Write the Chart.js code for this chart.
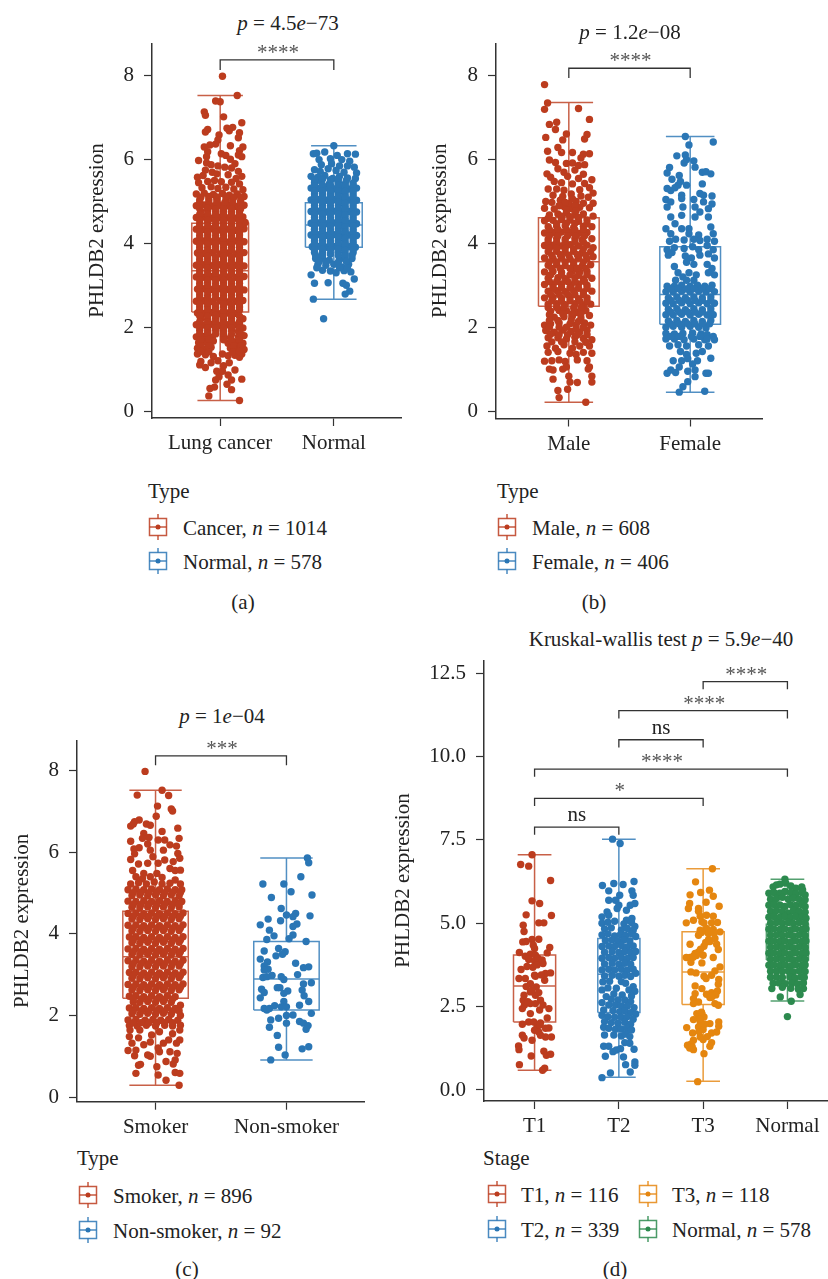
<!DOCTYPE html>
<html>
<head>
<meta charset="utf-8">
<title>PHLDB2 expression</title>
<script src="https://cdn.jsdelivr.net/npm/chart.js@4"></script>
<style>
html, body { margin: 0; padding: 0; background: #fff; }
#page { position: relative; width: 828px; height: 1279px; overflow: hidden; font-family: "Liberation Serif", serif; color: #222; font-size: 21px; }
#page canvas { position: absolute; }
.t { position: absolute; white-space: nowrap; line-height: 1; transform: translateY(-50%); }
.c { transform: translate(-50%, -50%); }
.g { position: absolute; }
</style>
</head>
<body>
<div id="page"></div>
<script>
const red = '#bc3c1e', blue = '#2a76b5', orange = '#e5860f', green = '#2c8a4e';

const yTicksTop = [0, 2, 4, 6, 8];
const yTicksD = [0, 2.5, 5, 7.5, 10, 12.5];
const catsA = ['Lung cancer', 'Normal'];
const catsB = ['Male', 'Female'];
const catsC = ['Smoker', 'Non-smoker'];
const catsD = ['T1', 'T2', 'T3', 'Normal'];

// low whisker, q1, median, q3, high whisker
const statsA = [[.25, 2.36, 3.35, 4.48, 7.53], [2.67, 3.91, 4.44, 4.97, 6.33]];
const statsB = [[.21, 2.5, 3.56, 4.61, 7.36], [.45, 2.07, 2.78, 3.92, 6.55]];
const statsC = [[.29, 2.42, 3.44, 4.55, 7.52], [.91, 2.13, 2.89, 3.81, 5.86]];
const statsD = [[.59, 2.04, 3.12, 4.05, 7.05], [.38, 2.32, 3.47, 4.54, 7.52], [.26, 2.56, 3.54, 4.74, 6.63], [2.67, 3.9, 4.44, 4.97, 6.32]];

// jitter, value pairs (dense middles are estimates)
const ptsA0 = [.02,7.99,.15,7.53,-.04,7.4,0,7.38,-.14,7.14,-.13,7.06,.03,7.02,.19,6.88,.11,6.77,.06,6.75,.08,6.69,-.11,6.72,-.13,6.66,.17,6.64,-.01,6.59,.16,6.52,-.02,6.47,-.04,6.37,-.09,6.35,-.14,6.3,.09,6.33,.2,6.3,.17,6.21,-.11,6.19,.01,6.14,.05,6.1,.16,6.11,.19,6.07,-.12,6.07,.09,6.01,-.19,5.98,-.12,5.92,-.08,5.88,.13,5.9,
-.02,5.85,.04,5.82,.1,5.8,.16,5.72,-.13,5.75,-.07,5.7,.19,5.6,-.2,5.58,-.15,5.62,-.03,5.66,.07,5.64,.14,5.55,
-.19,5.45,-.11,5.48,-.05,5.5,.01,5.47,.1,5.46,.17,5.42,-.16,5.33,-.08,5.35,-.02,5.31,.05,5.34,.12,5.3,.2,5.28,
-.21,5.18,-.14,5.2,-.06,5.17,.02,5.19,.08,5.15,.15,5.18,.21,5.12,-.18,5.04,-.1,5.05,-.03,5.06,.05,5.03,.11,5.04,.18,5.01,
-.21,4.9,-.14,4.92,-.07,4.89,-.01,4.91,.07,4.9,.14,4.88,.21,4.91,-.17,4.76,-.11,4.78,-.04,4.75,.03,4.77,.1,4.74,.17,4.76,
-.21,4.62,-.14,4.63,-.08,4.6,-.01,4.62,.06,4.61,.13,4.6,.2,4.63,-.18,4.47,-.11,4.49,-.04,4.46,.03,4.48,.1,4.47,.17,4.45,.22,4.5,
-.21,4.34,-.14,4.33,-.07,4.35,0,4.32,.07,4.34,.14,4.31,.21,4.35,-.18,4.19,-.11,4.2,-.04,4.18,.03,4.2,.1,4.17,.17,4.2,
-.21,4.05,-.14,4.06,-.07,4.04,0,4.06,.07,4.03,.14,4.06,.21,4.04,-.18,3.91,-.11,3.9,-.04,3.92,.03,3.89,.1,3.91,.17,3.9,
-.2,3.77,-.14,3.76,-.07,3.78,0,3.75,.07,3.77,.14,3.75,.21,3.78,-.18,3.62,-.11,3.63,-.04,3.61,.03,3.63,.1,3.6,.17,3.63,
-.21,3.48,-.14,3.49,-.07,3.47,0,3.49,.06,3.46,.14,3.48,.21,3.46,-.18,3.34,-.11,3.33,-.04,3.35,.03,3.32,.1,3.34,.17,3.33,
-.21,3.2,-.14,3.19,-.07,3.21,0,3.18,.07,3.2,.14,3.19,.21,3.21,-.18,3.05,-.11,3.06,-.04,3.04,.03,3.06,.1,3.03,.17,3.05,
-.2,2.91,-.14,2.92,-.07,2.9,0,2.92,.07,2.9,.14,2.91,.21,2.89,-.18,2.77,-.11,2.76,-.04,2.78,.03,2.75,.1,2.77,.17,2.76,
-.21,2.62,-.14,2.63,-.07,2.61,0,2.63,.07,2.6,.14,2.62,.2,2.64,-.18,2.48,-.11,2.49,-.04,2.47,.03,2.49,.1,2.46,.17,2.48,
-.2,2.34,-.14,2.33,-.07,2.35,0,2.32,.07,2.34,.14,2.33,.2,2.2,-.17,2.2,-.11,2.19,-.04,2.21,.03,2.18,.1,2.2,.17,2.08,
-.21,2.06,-.14,2.05,-.07,2.07,0,2.04,.07,2.06,.13,2.05,.2,1.98,-.18,1.92,-.11,1.91,-.04,1.93,.03,1.9,.1,1.92,.16,1.9,
-.21,1.77,-.14,1.78,-.07,1.76,.03,1.78,.09,1.75,.16,1.77,.21,1.8,-.19,1.63,-.12,1.64,-.06,1.67,.07,1.62,.14,1.64,.2,1.62,
-.2,1.5,-.14,1.48,-.08,1.52,.09,1.5,.15,1.48,.21,1.47,-.2,1.36,-.13,1.34,-.06,1.3,.02,1.36,.07,1.32,.13,1.33,.19,1.36,
-.18,1.1,-.13,1.04,-.17,1.18,-.08,1.15,-.02,1.2,.03,1.08,.08,1.15,.13,.98,.17,1.28,
.17,.25,-.1,.36,.1,.51,-.09,.54,-.05,.57,.06,.64,.19,.76,-.04,.74,-.01,.82,.1,.74,.07,.86,-.03,.95,.02,.95];
const fillA0 = [-.17,5.1,-.1,5.12,-.03,5.11,.05,5.12,.12,5.1,.18,5.1,-.18,4.98,-.1,4.98,-.03,4.98,.04,4.97,.11,4.97,.18,4.95,
-.18,4.83,-.11,4.84,-.04,4.82,.03,4.83,.1,4.82,.18,4.83,-.18,4.69,-.11,4.7,-.04,4.68,.03,4.69,.1,4.68,.17,4.69,-.18,4.55,-.11,4.55,-.04,4.54,.03,4.55,.1,4.53,.17,4.54,
-.18,4.41,-.11,4.41,-.04,4.4,.03,4.41,.1,4.39,.17,4.41,-.18,4.27,-.11,4.27,-.04,4.26,.03,4.27,.1,4.25,.17,4.26,-.18,4.12,-.11,4.13,-.04,4.11,.03,4.12,.1,4.11,.17,4.13,
-.18,3.98,-.11,3.98,-.04,3.99,.03,3.97,.1,3.97,.17,3.98,-.18,3.84,-.11,3.83,-.04,3.85,.03,3.82,.1,3.84,.17,3.83,-.18,3.7,-.11,3.69,-.04,3.68,.03,3.7,.1,3.68,.17,3.69,
-.18,3.55,-.11,3.56,-.04,3.54,.03,3.56,.1,3.53,.17,3.55,-.18,3.41,-.11,3.41,-.04,3.42,.03,3.4,.1,3.41,.17,3.4,-.18,3.27,-.11,3.26,-.04,3.28,.03,3.25,.1,3.27,.17,3.26,
-.18,3.13,-.11,3.12,-.04,3.12,.03,3.12,.1,3.11,.17,3.12,-.18,2.98,-.11,2.99,-.04,2.97,.03,2.99,.1,2.96,.17,2.98,-.18,2.84,-.11,2.84,-.04,2.84,.03,2.83,.1,2.84,.17,2.83,
-.18,2.7,-.11,2.69,-.04,2.7,.03,2.68,.1,2.69,.17,2.69,-.18,2.55,-.11,2.56,-.04,2.54,.03,2.56,.1,2.53,.17,2.55,-.18,2.41,-.11,2.41,-.04,2.41,.03,2.4,.1,2.4,.17,2.41,
-.18,2.27,-.11,2.26,-.04,2.28,.03,2.25,.1,2.27,.17,2.26,-.18,2.13,-.11,2.12,-.04,2.13,.03,2.11,.1,2.13,.17,2.14,-.18,1.99,-.11,1.98,-.04,1.98,.03,1.97,.1,1.99,.17,1.98,
-.18,1.84,-.11,1.85,-.04,1.84,.03,1.84,.1,1.83,.18,1.84,-.17,1.7,-.1,1.71,.03,1.7,.1,1.69,.17,1.7,-.17,1.56,-.1,1.56,.12,1.56,.18,1.55,-.17,1.42,-.1,1.41,.11,1.41,.17,1.42];
const ptsA1 = [0,6.33,-.18,6.14,-.15,6.15,-.08,6.18,.12,6.14,.19,6.13,.03,6.1,-.03,6.02,-.13,6,.07,6,.14,5.96,-.11,5.88,-.02,5.9,.05,5.85,.12,5.85,.18,5.82,-.17,5.76,-.12,5.72,-.05,5.78,.02,5.74,.09,5.7,.2,5.68,
-.2,5.6,-.14,5.58,-.08,5.62,-.01,5.55,.05,5.6,.12,5.56,.19,5.55,-.17,5.45,-.11,5.47,-.04,5.42,.04,5.46,.1,5.42,.17,5.44,-.2,5.32,-.13,5.31,-.07,5.33,0,5.3,.07,5.32,.13,5.3,.2,5.32,
-.17,5.18,-.1,5.19,-.03,5.17,.04,5.19,.1,5.16,.17,5.18,-.2,5.04,-.13,5.05,-.07,5.03,0,5.05,.07,5.02,.14,5.04,.2,5.03,-.17,4.9,-.1,4.91,-.03,4.89,.04,4.91,.1,4.88,.17,4.9,
-.2,4.76,-.13,4.77,-.07,4.75,0,4.77,.07,4.74,.14,4.76,.2,4.75,-.17,4.62,-.1,4.63,-.03,4.61,.04,4.63,.1,4.6,.17,4.62,-.2,4.48,-.13,4.49,-.07,4.47,0,4.49,.07,4.46,.14,4.48,.2,4.47,
-.17,4.34,-.1,4.35,-.03,4.33,.04,4.35,.1,4.32,.17,4.34,-.2,4.2,-.13,4.21,-.07,4.19,0,4.21,.07,4.18,.14,4.2,.2,4.19,-.17,4.06,-.1,4.07,-.03,4.05,.04,4.07,.1,4.04,.17,4.06,
-.19,3.92,-.13,3.93,-.07,3.91,0,3.93,.07,3.9,.14,3.92,.19,3.91,-.17,3.78,-.1,3.79,-.03,3.75,.04,3.79,.1,3.76,.17,3.78,-.16,3.64,-.1,3.65,-.04,3.6,.05,3.62,.1,3.63,.16,3.64,
-.14,3.5,-.07,3.48,0,3.5,.07,3.44,.13,3.5,-.1,3.36,-.03,3.34,.02,3.3,.09,3.35,.15,3.32,-.2,3.25,-.17,3.05,-.05,3.06,.08,3.05,.18,3.15,.14,2.86,.1,2.79,.11,3,-.18,2.67,-.09,2.2];
const fillA1 = [-.17,5.52,-.1,5.53,-.03,5.52,.04,5.53,.11,5.5,-.17,5.38,-.1,5.39,-.03,5.38,.04,5.39,.1,5.37,.17,5.38,-.17,5.25,-.1,5.25,-.03,5.24,.04,5.25,.1,5.24,.17,5.25,
-.17,5.11,-.1,5.12,-.03,5.11,.04,5.12,.1,5.1,.17,5.11,-.17,4.97,-.1,4.98,-.03,4.97,.04,4.98,.1,4.96,.17,4.97,-.17,4.83,-.1,4.84,-.03,4.83,.04,4.84,.1,4.82,.17,4.83,
-.17,4.69,-.1,4.7,-.03,4.69,.04,4.7,.1,4.68,.17,4.69,-.17,4.55,-.1,4.56,-.03,4.55,.04,4.56,.1,4.54,.17,4.55,-.17,4.41,-.1,4.42,-.03,4.41,.04,4.42,.1,4.4,.17,4.41,
-.17,4.27,-.1,4.28,-.03,4.27,.04,4.28,.1,4.26,.17,4.27,-.17,4.13,-.1,4.14,-.03,4.13,.04,4.14,.1,4.12,.17,4.13,-.17,3.99,-.1,4,-.03,3.99,.04,4,.1,3.98,.17,3.99,
-.17,3.85,-.1,3.86,-.03,3.85,.04,3.86,.1,3.84,.17,3.85,-.16,3.71,-.1,3.72,.04,3.71,.1,3.7,.16,3.71,-.13,3.57,-.07,3.56,.04,3.55,.11,3.57,-.15,3.42,.05,3.42,.12,3.4];
const ptsB0 = [-.2,7.79,-.175,7.35,-.2,7.2,.08,7.22,.17,6.96,-.1,6.89,-.16,6.84,-.11,6.72,-.02,6.61,.15,6.6,-.19,6.53,.13,6.49,-.05,6.47,-.09,6.29,-.175,6.2,-.06,6.17,.03,6.17,.17,6.14,.12,6.13,.1,6.04,-.16,5.99,-.11,5.93,-.02,5.91,.03,5.92,.08,5.86,.13,5.88,
-.09,5.78,-.04,5.7,.05,5.75,-.18,5.66,-.15,5.58,-.01,5.6,.12,5.65,.08,5.55,.19,5.52,-.12,5.48,-.06,5.45,.03,5.42,.13,5.43,.17,5.33,-.17,5.3,-.1,5.3,-.04,5.27,.09,5.28,.2,5.2,
-.13,5.15,-.05,5.12,.02,5.18,.1,5.13,.16,5.1,-.19,5,-.14,4.98,-.07,5.03,0,4.95,.06,5,.12,4.96,.2,4.96,-.2,4.84,-.12,4.82,-.04,4.88,.03,4.82,.09,4.86,.17,4.85,
-.16,4.68,-.09,4.7,-.02,4.72,.05,4.68,.12,4.7,.2,4.65,-.2,4.54,-.13,4.55,-.06,4.57,.01,4.56,.08,4.53,.15,4.56,-.17,4.4,-.1,4.41,-.03,4.42,.04,4.38,.12,4.41,.19,4.4,
-.2,4.25,-.13,4.26,-.06,4.27,.02,4.26,.08,4.24,.15,4.26,-.17,4.1,-.1,4.12,-.03,4.1,.05,4.12,.11,4.09,.19,4.11,-.2,3.95,-.13,3.96,-.06,3.94,.01,3.97,.08,3.94,.15,3.96,.2,3.9,
-.17,3.8,-.1,3.81,-.03,3.79,.04,3.81,.11,3.78,.18,3.8,-.2,3.65,-.13,3.64,-.06,3.66,.01,3.63,.08,3.65,.15,3.63,.2,3.68,-.17,3.48,-.1,3.49,-.03,3.47,.04,3.49,.11,3.46,.18,3.49,
-.2,3.32,-.13,3.33,-.06,3.31,.03,3.34,.09,3.31,.15,3.33,-.17,3.17,-.09,3.18,-.03,3.16,.05,3.18,.12,3.15,.19,3.17,-.2,3.02,-.13,3,-.06,3.03,.02,3.01,.08,3.03,.15,3,
-.17,2.86,-.1,2.87,-.03,2.85,.04,2.87,.12,2.84,.19,2.86,-.2,2.7,-.13,2.71,-.06,2.69,.01,2.71,.08,2.68,.15,2.7,-.17,2.55,-.1,2.56,-.03,2.54,.05,2.56,.12,2.53,.18,2.55,
-.15,2.38,-.08,2.4,-.02,2.39,.07,2.35,.14,2.4,.17,2.28,-.12,2.24,-.04,2.25,.03,2.27,.1,2.22,.18,2.05,-.2,2.05,-.15,2.08,-.08,2.1,.01,2.08,.06,2.05,.13,2.1,
-.19,1.92,-.12,1.88,-.05,1.93,.02,1.9,.09,1.88,.15,1.92,-.17,1.75,-.09,1.75,-.02,1.72,.05,1.76,.12,1.73,.19,1.7,-.18,1.55,-.11,1.5,-.04,1.58,.03,1.5,.09,1.55,.17,1.55,
-.17,1.4,-.09,1.42,.01,1.38,.06,1.35,.12,1.4,.19,1.38,-.2,1.19,-.14,1.2,-.08,1.22,-.03,1.18,.07,1.22,.15,1.2,.17,1.05,
.14,.21,-.08,.32,-.09,.49,-.01,.52,.07,.68,.19,.69,.01,.69,-.13,.76,.19,.83,0,.83,.16,1,-.16,1,-.13,.98,-.05,1,-.02,1.05];
const fillB0 = [-.03,4.98,.03,5.06,-.08,4.9,.05,4.9,-.02,4.8,.06,4.78,-.06,4.65,.01,4.64,.08,4.62,-.17,4.6,-.1,4.47,-.02,4.48,.05,4.48,.15,4.47,-.16,4.33,-.09,4.33,-.02,4.33,.05,4.32,.12,4.33,-.16,4.18,-.09,4.18,-.01,4.18,.06,4.18,.13,4.18,
-.17,4.03,-.1,4.03,-.03,4.03,.05,4.03,.12,4.03,-.16,3.88,-.1,3.88,-.03,3.88,.04,3.87,.12,3.87,-.14,3.72,-.07,3.73,0,3.72,.07,3.73,.14,3.72,-.16,3.56,-.1,3.56,-.03,3.56,.04,3.56,.12,3.56,
-.14,3.4,-.07,3.4,.01,3.4,.07,3.4,.14,3.4,-.15,3.25,-.06,3.25,.01,3.25,.08,3.24,.15,3.25,-.16,3.09,-.1,3.09,-.01,3.09,.05,3.09,.13,3.09,-.13,2.93,-.06,2.94,.01,2.94,.08,2.93,.15,2.93,
-.15,2.78,-.08,2.78,-.01,2.78,.05,2.78,.12,2.78,-.14,2.63,-.06,2.62,.01,2.63,.09,2.62,.15,2.62,-.17,2.47,-.1,2.47,-.04,2.47,.04,2.46,.1,2.46,-.16,2.3,-.05,2.32,.03,2.32,.1,2.32,-.16,2.16,-.09,2.16,.02,2.17,.08,2.14,
-.16,2,-.08,2,-.02,2,.06,1.97,.12,2,-.15,1.83,-.08,1.82,-.01,1.82,.07,1.82,.15,1.82,-.14,1.65,-.06,1.65,.05,1.65,.14,1.64];
const ptsB1 = [-.04,6.55,.19,6.42,-.01,6.35,-.11,6.09,-.04,6.11,-.03,6,-.05,5.92,.03,5.97,-.17,5.81,.04,5.82,-.19,5.68,-.09,5.62,.1,5.7,.13,5.71,.17,5.66,-.15,5.53,-.08,5.48,-.1,5.39,-.03,5.39,.1,5.42,
-.19,5.31,-.16,5.26,-.125,5.33,-.07,5.15,.08,5.19,.11,5.15,.18,5.13,-.2,5.05,-.16,4.99,-.07,5.07,.03,5.05,.11,4.99,.18,4.94,-.19,4.87,-.06,4.87,.04,4.87,.08,4.75,.15,4.83,-.16,4.63,-.07,4.67,.04,4.63,.15,4.63,
-.125,4.47,-.07,4.35,-.01,4.35,-.2,4.35,.17,4.39,.19,4.23,-.16,4.23,-.01,4.23,.07,4.2,-.17,4.05,-.12,4.1,-.05,4.08,.03,4.1,.08,4.07,.14,4.1,.2,4.05,
-.19,3.85,-.13,3.9,-.05,3.88,.02,3.92,.07,3.85,.14,3.95,.19,3.85,-.18,3.72,-.15,3.78,-.04,3.7,.01,3.65,.08,3.72,.15,3.75,.2,3.65,-.03,3.55,.03,3.5,.14,3.5,.18,3.4,.2,3.25,
-.13,3.45,-.1,3.3,.15,3.3,-.06,3.2,-.01,3.3,.05,3.25,-.12,3.12,-.03,3.12,.03,3.12,-.19,2.98,-.13,2.98,-.07,3,0,2.98,.06,3,.12,2.98,.18,3,
-.2,2.85,-.14,2.84,-.07,2.86,0,2.84,.07,2.86,.13,2.84,.2,2.85,-.18,2.7,-.11,2.72,-.04,2.7,.03,2.72,.1,2.7,.17,2.72,-.2,2.57,-.14,2.56,-.07,2.58,0,2.56,.07,2.58,.14,2.56,.2,2.57,
-.18,2.43,-.11,2.44,-.04,2.42,.03,2.44,.1,2.42,.17,2.44,-.2,2.3,-.14,2.29,-.07,2.31,0,2.29,.07,2.31,.14,2.29,.19,2.3,-.18,2.15,-.11,2.16,-.04,2.14,.03,2.16,.1,2.14,.17,2.16,
-.2,2,-.14,2.02,-.07,2,0,2.02,.07,2,.13,1.98,-.2,1.85,-.13,1.84,-.06,1.85,.02,1.86,.09,1.84,.14,1.82,-.2,1.72,-.13,1.72,-.05,1.7,.03,1.72,.12,1.7,.19,1.78,.2,1.7,
-.17,1.55,-.1,1.58,-.03,1.55,.07,1.58,.15,1.55,-.08,1.42,-.03,1.35,.05,1.38,.1,1.42,.17,1.26,-.14,1.2,-.07,1.2,-.02,1.25,.06,1.2,.02,1.12,
-.19,.9,-.16,.98,-.12,.92,-.09,1.05,-.02,.95,.04,.98,.13,.9,.15,.9,.04,.82,-.02,.7,-.06,.58,.12,.47,-.09,.45];
const fillB1 = [-.16,2.92,-.1,2.92,-.03,2.91,.03,2.92,.1,2.92,.16,2.92,-.16,2.64,-.09,2.64,-.02,2.64,.04,2.64,.1,2.64,.17,2.64,
-.16,2.36,-.09,2.36,-.02,2.36,.04,2.36,.1,2.36,.17,2.36,-.16,2.08,-.09,2.08,-.02,2.08,.04,2.08,.1,2.08,.16,2.08,-.16,1.78,-.09,1.78,.01,1.78,.08,1.78,.14,1.72];
const ptsC0 = [-.08,7.98,.05,7.52,-.14,7.4,.1,7.39,.015,7.13,.12,7.06,.13,7.01,.005,6.88,-.125,6.79,-.16,6.75,-.19,6.64,-.17,6.69,-.07,6.69,-.04,6.66,.17,6.59,.05,6.51,-.09,6.46,-.1,6.34,.18,6.34,-.05,6.36,.02,6.3,.07,6.3,-.19,6.27,-.06,6.2,.11,6.18,.16,6.15,-.125,6.11,-.165,6.08,-.04,6.05,.06,6.05,.17,5.97,-.16,5.96,-.02,5.89,.185,5.85,-.19,5.82,.07,5.81,.135,5.77,-.13,5.71,-.06,5.73,.02,5.73,.11,5.6,.19,5.56,-.175,5.55,-.09,5.48,.15,5.55,.01,5.48,-.15,5.4,.15,5.32,.19,5.22,-.04,5.4,.05,5.38,-.1,5.35,
-.19,5.22,-.13,5.25,-.07,5.22,-.01,5.27,.05,5.22,.11,5.24,-.21,5.08,-.15,5.1,-.09,5.08,-.03,5.1,.03,5.08,.09,5.1,.15,5.08,.2,5.08,
-.18,4.94,-.12,4.95,-.06,4.93,0,4.95,.06,4.93,.12,4.95,.18,4.93,-.21,4.8,-.15,4.79,-.09,4.81,-.03,4.79,.03,4.81,.09,4.79,.15,4.81,.2,4.79,
-.18,4.65,-.12,4.64,-.06,4.66,0,4.64,.06,4.66,.12,4.64,.18,4.66,-.21,4.5,-.15,4.51,-.09,4.49,-.03,4.51,.03,4.49,.09,4.51,.15,4.49,.21,4.51,
-.18,4.36,-.12,4.35,-.06,4.37,0,4.35,.06,4.37,.12,4.35,.18,4.37,-.21,4.21,-.15,4.22,-.09,4.2,-.03,4.22,.03,4.2,.09,4.22,.15,4.2,.21,4.22,
-.18,4.07,-.12,4.06,-.06,4.08,0,4.06,.06,4.08,.12,4.06,.18,4.08,-.2,3.92,-.15,3.93,-.09,3.91,-.03,3.93,.03,3.91,.09,3.93,.15,3.91,.21,3.93,
-.18,3.78,-.12,3.77,-.06,3.79,0,3.77,.06,3.79,.12,3.77,.18,3.79,-.21,3.63,-.15,3.64,-.09,3.62,-.03,3.64,.03,3.62,.09,3.64,.15,3.62,.21,3.64,
-.18,3.49,-.12,3.48,-.06,3.5,0,3.48,.06,3.5,.12,3.48,.18,3.5,-.21,3.34,-.15,3.35,-.09,3.33,-.03,3.35,.03,3.33,.09,3.35,.15,3.33,.21,3.35,
-.18,3.2,-.12,3.19,-.06,3.21,0,3.19,.06,3.21,.12,3.19,.18,3.21,-.2,3.05,-.15,3.06,-.09,3.04,-.03,3.06,.03,3.04,.09,3.06,.15,3.04,.21,3.06,
-.18,2.91,-.12,2.9,-.06,2.92,0,2.9,.06,2.92,.12,2.9,.18,2.92,-.21,2.76,-.15,2.77,-.09,2.75,-.03,2.77,.03,2.75,.09,2.77,.15,2.75,.21,2.77,
-.18,2.62,-.12,2.61,-.06,2.63,0,2.61,.06,2.63,.12,2.61,.18,2.63,-.2,2.47,-.15,2.48,-.09,2.46,-.03,2.48,.03,2.46,.09,2.48,.15,2.46,
-.17,2.33,-.12,2.32,-.06,2.34,0,2.32,.06,2.34,.12,2.32,.19,2.25,-.2,2.18,-.15,2.19,-.09,2.17,-.03,2.19,.03,2.17,.09,2.19,.15,2.17,
-.18,2.04,-.12,2.03,-.06,2.05,0,2.03,.06,2.05,.12,2.03,.19,2,-.21,1.89,-.15,1.9,-.08,1.88,-.02,1.9,.04,1.88,.1,1.9,.17,1.88,
-.2,1.75,-.14,1.74,-.07,1.76,0,1.74,.07,1.76,.13,1.74,.19,1.76,.18,.29,.08,.41,-.15,.58,.02,.54,.15,.6,.185,.58,-.13,.78,-.115,.8,.01,.74,.135,.81,.08,.87,.165,1.07,.15,.91,-.06,1.03,-.04,1,-.16,1.01,-.21,1.14,.03,1.11,.11,1.11,-.09,1.28,.06,1.32,.16,1.32,-.18,1.32,.185,1.4,-.04,1.35,.1,1.4,-.2,1.48,-.13,1.45,-.03,1.52,.185,1.64,-.195,1.64,-.12,1.64,.03,1.6,.13,1.55,.02,1.2,-.15,1.15];
const fillC0 = [-.17,5.01,-.11,5.02,-.05,5.01,.01,5.02,.07,5.01,.13,5.02,.19,5.01,-.17,4.72,-.11,4.72,-.05,4.73,.01,4.72,.07,4.73,.13,4.72,.18,4.73,
-.17,4.43,-.11,4.43,-.05,4.43,.01,4.43,.07,4.43,.13,4.43,.19,4.43,-.17,4.14,-.11,4.14,-.05,4.14,.01,4.14,.07,4.14,.13,4.14,.19,4.14,-.17,3.85,-.11,3.85,-.05,3.85,.01,3.85,.07,3.85,.13,3.85,.19,3.85,
-.17,3.56,-.11,3.56,-.05,3.56,.01,3.56,.07,3.56,.13,3.56,.19,3.56,-.17,3.27,-.11,3.27,-.05,3.27,.01,3.27,.07,3.27,.13,3.27,.19,3.27,-.17,2.98,-.11,2.98,-.05,2.98,.01,2.98,.07,2.98,.13,2.98,.19,2.98,
-.17,2.69,-.11,2.69,-.05,2.69,.01,2.69,.07,2.69,.13,2.69,.19,2.69,-.17,2.4,-.11,2.4,-.05,2.4,.01,2.4,.07,2.4,.13,2.4,-.17,2.11,-.11,2.11,-.05,2.11,.01,2.11,.07,2.11,.13,2.11,.18,2.11,-.17,1.82,-.11,1.82,-.05,1.82,.01,1.82,.07,1.82,.13,1.82];
const ptsC1 = [.16,5.86,.17,5.74,.11,5.4,-.18,5.22,-.02,5.22,.035,5.03,.195,4.95,-.115,4.89,-.04,4.62,.07,4.5,0,4.46,.05,4.42,.18,4.44,-.14,4.36,-.045,4.32,-.2,4.22,.08,4.24,.05,4.18,-.13,4.09,-.095,3.95,.05,3.97,-.15,3.86,.02,3.88,.15,3.81,-.06,3.64,-.17,3.58,-.01,3.56,-.03,3.5,-.08,3.46,-.2,3.38,-.145,3.31,.07,3.28,-.17,3.21,.13,3.17,.17,3.19,-.14,3.13,-.17,3.11,.085,3,-.18,2.93,-.11,2.98,-.15,2.95,-.04,2.95,-.02,2.88,.13,2.77,.19,2.8,-.19,2.64,-.07,2.68,-.05,2.68,.01,2.6,.12,2.62,-.17,2.56,-.02,2.54,.135,2.48,-.2,2.43,.17,2.34,-.02,2.34,.1,2.25,-.09,2.24,-.04,2.21,0,2.21,-.17,2.17,-.15,2.13,-.13,2.17,.19,2.05,0,2,.05,2.01,-.06,1.93,-.12,1.89,.1,1.85,.13,1.81,.165,1.75,0,1.81,-.13,1.71,.15,1.66,-.07,1.51,-.06,1.22,.17,1.23,.12,1.18,-.01,1.03,-.12,.91];
const ptsD0 = [-.03,7.05,-.165,6.76,-.07,6.71,.19,6.28,-.03,5.67,.06,5.59,-.1,5.25,.2,5.23,-.135,4.94,.05,5.01,.11,5.01,-.125,4.75,-.14,4.44,-.03,4.51,.05,4.52,-.015,4.34,.18,4.27,-.18,4.12,.15,4.11,0,4.24,-.11,4.01,-.05,4.07,.01,4.04,-.07,3.91,0,3.87,.06,3.87,.1,3.79,-.16,3.61,0,3.44,.13,3.49,.19,3.51,-.185,3.34,-.11,3.34,.01,3.41,.12,3.29,-.05,3.19,.02,3.09,-.125,2.84,-.05,2.94,.01,2.84,.07,2.69,-.135,2.69,-.05,2.59,.17,2.44,-.145,2.44,.01,2.59,-.05,2.29,.15,2.16,-.145,1.97,-.07,2.04,-.01,2.04,.07,2.01,.03,1.89,.17,1.86,0,1.79,.05,1.74,-.145,1.64,-.125,1.56,.13,1.59,.2,1.59,-.03,1.49,.07,1.64,-.19,1.32,-.185,1.21,.11,1.16,.14,1.04,.19,1.07,-.04,1.02,-.18,.76,.12,.65,.095,.59,.04,3.95,.09,3.9,-.09,3.7,-.02,3.68,.08,3.45,-.1,3.1,-.03,3,.05,2.92,-.12,2.55,.06,2.4,-.08,2.65,.1,2.55,.06,1.95,.13,1.85,-.1,4.45,.03,3.75];
const ptsD1 = [-.075,7.52,.015,7.39,.18,6.25,.05,6.16,-.06,6.19,-.195,6.13,.155,5.97,.17,5.84,.01,5.84,-.12,5.97,-.04,5.69,-.12,5.69,0,5.54,.135,5.54,.19,5.59,.09,5.39,-.14,5.34,-.02,5.44,-.2,5.19,-.12,5.24,.09,5.09,.155,5.14,
-.2,5,-.13,5.03,-.05,5.06,.06,4.98,.15,5.02,.19,4.9,-.17,4.83,-.09,4.86,.03,4.8,.1,4.84,.17,4.78,-.2,4.65,-.13,4.68,-.05,4.62,.02,4.66,.08,4.63,.15,4.68,.2,4.6,
-.16,4.48,-.08,4.5,-.01,4.46,.06,4.5,.13,4.47,-.2,4.3,-.12,4.32,-.05,4.3,.03,4.33,.1,4.29,.17,4.32,-.17,4.13,-.08,4.15,0,4.12,.07,4.15,.14,4.12,.2,4.15,
-.2,3.95,-.12,3.97,-.05,3.95,.03,3.97,.1,3.94,.17,3.97,-.17,3.78,-.08,3.8,0,3.77,.07,3.8,.14,3.77,-.2,3.6,-.12,3.62,-.05,3.6,.03,3.62,.1,3.59,.17,3.62,.2,3.5,
-.17,3.42,-.08,3.44,0,3.41,.07,3.44,.14,3.4,-.19,3.24,-.11,3.26,-.03,3.05,.03,3.25,.08,3.2,.17,3.1,-.13,3.06,-.2,3,.12,3,.19,2.96,-.06,2.88,.04,2.85,.15,2.82,
-.15,2.8,-.09,2.72,-.01,2.7,.07,2.7,.14,2.65,-.2,2.62,-.12,2.55,-.04,2.55,.03,2.52,.1,2.52,.18,2.47,-.18,2.4,-.07,2.38,.01,2.35,.07,2.38,.14,2.32,.2,2.28,
-.2,2.24,-.13,2.2,-.05,2.18,.03,2.18,.1,2.2,.17,2.12,-.17,2.05,-.09,2.02,-.01,2,.07,2.03,.14,1.98,-.18,1.88,-.12,1.85,-.04,1.82,.03,1.83,.1,1.85,.15,1.8,
-.17,1.65,-.06,1.65,.03,1.62,.08,1.68,.13,1.6,-.18,1.31,-.12,1.31,-.07,1.15,-.03,1.2,.02,1.24,.07,1.42,.13,1.4,.18,1.22,-.16,1.01,.055,.99,.19,.84,.08,.76,.19,.74,.135,.54,-.1,.51,-.2,.37];
const ptsD2 = [.11,6.63,-.09,6.24,.075,5.99,-.03,5.92,-.155,5.85,.12,5.81,.035,5.63,-.16,5.59,.19,5.51,-.175,5.44,-.055,5.44,-.055,5.36,-.035,5.21,.04,5.24,.12,5.21,-.015,5.04,-.115,5.09,-.2,5.01,.01,5.01,.1,5.01,.17,5.02,.04,4.84,.12,4.81,-.035,4.79,.2,4.74,-.055,4.64,.14,4.54,.065,4.51,-.155,4.37,.16,4.37,.01,4.31,.18,4.21,-.055,4.14,-.095,4.09,-.155,3.97,-.2,3.97,-.115,4.01,0,4.04,.12,3.97,-.145,3.83,-.015,3.81,.2,3.69,.14,3.57,-.145,3.54,-.085,3.51,.1,3.44,.01,3.41,.035,3.34,.185,3.31,.18,3.17,-.095,3.12,-.015,3.04,.1,2.92,-.095,2.89,.17,2.97,.04,2.87,.12,2.84,-.115,2.74,.08,2.77,-.055,2.64,-.115,2.59,.14,2.59,.18,2.54,-.075,2.29,-.015,2.29,-.055,2.19,.01,2.19,-.115,2.11,-.035,2.04,-.195,1.87,.185,2.04,.08,1.99,.185,1.91,-.055,1.89,0,1.81,.16,1.74,.1,1.71,-.125,1.71,-.035,1.59,0,1.51,-.115,1.49,.1,1.42,.08,1.31,-.185,1.34,-.145,1.37,-.115,1.21,.01,1.09,-.065,.25,.06,4.7,.1,4.75,-.02,4.72,.13,4.7,.03,4.42,.08,4.45,-.03,4.22,-.08,4.03,-.12,3.98,-.02,2.33,-.04,2.12,.02,1.97,-.05,1.75,.05,1.6,-.16,1.26,-.13,1.3,.15,2.85,.1,2.78];
const ptsD3 = [-.03,6.32,-.17,6.09,-.13,6.15,-.09,6.17,.17,6.09,.18,6,-.02,6.2,.04,6.12,.1,6.05,
-.22,5.9,-.16,5.92,-.09,5.9,-.03,5.95,.04,5.92,.1,5.88,.17,5.92,.21,5.85,-.2,5.72,-.13,5.74,-.06,5.78,.01,5.72,.07,5.75,.14,5.72,.21,5.7,
-.22,5.54,-.16,5.56,-.09,5.55,-.03,5.5,.04,5.55,.1,5.53,.17,5.56,.21,5.5,-.2,5.36,-.13,5.38,-.06,5.35,.01,5.3,.07,5.38,.14,5.36,.21,5.33,
-.22,5.18,-.16,5.2,-.09,5.18,-.03,5.2,.04,5.17,.1,5.2,.17,5.18,.22,5.15,-.2,5,-.13,5.02,-.06,5,.01,5.02,.07,4.99,.14,5.02,.21,5,
-.22,4.82,-.16,4.83,-.09,4.81,-.03,4.83,.04,4.8,.1,4.83,.17,4.81,.22,4.83,-.2,4.64,-.13,4.65,-.06,4.63,.01,4.65,.07,4.62,.14,4.65,.21,4.63,
-.22,4.46,-.16,4.47,-.09,4.45,-.03,4.47,.04,4.44,.1,4.47,.17,4.45,.22,4.47,-.2,4.28,-.13,4.29,-.06,4.27,.01,4.29,.07,4.26,.14,4.29,.21,4.27,
-.22,4.1,-.16,4.11,-.09,4.09,-.03,4.11,.04,4.08,.1,4.11,.17,4.09,.22,4.11,-.2,3.92,-.13,3.93,-.06,3.91,.01,3.93,.07,3.9,.14,3.93,.21,3.91,
-.22,3.74,-.16,3.75,-.09,3.73,-.03,3.75,.04,3.72,.1,3.75,.17,3.73,.21,3.75,-.2,3.56,-.13,3.57,-.06,3.55,.01,3.57,.07,3.54,.14,3.57,.21,3.55,
-.2,3.38,-.13,3.39,-.06,3.37,.03,3.39,.09,3.36,.16,3.39,.2,3.37,-.17,3.2,-.1,3.21,-.03,3.19,.05,3.21,.12,3.18,.19,3.21,-.185,3.04,-.06,3.08,.04,3.05,.13,3.02,.19,3.04,.15,2.86,-.085,2.79,.045,2.66,0,2.2];

// from, to, bracket height, tip drop, label
const sigA = [[0, 1, 8.38, .24, '****']];
const sigB = [[0, 1, 8.18, .23, '****']];
const sigC = [[0, 1, 8.36, .23, '***']];
const sigD = [[2, 3, 12.24, .23, '****'], [1, 3, 11.37, .23, '****'], [1, 2, 10.5, .23, 'ns'], [0, 3, 9.62, .23, '****'], [0, 2, 8.74, .23, '*'], [0, 1, 7.88, .23, 'ns']];

function pairs(flat) {
    const out = [];
    for (let i = 0; i < flat.length; i += 2) out.push([flat[i], flat[i + 1]]);
    return out;
}

function boxData(s, i) {
    const gap = {x: null, y: null};
    return [
        {x: i - .25, y: s[1]}, {x: i + .25, y: s[1]}, {x: i + .25, y: s[3]}, {x: i - .25, y: s[3]}, {x: i - .25, y: s[1]}, gap,
        {x: i - .25, y: s[2]}, {x: i + .25, y: s[2]}, gap,
        {x: i, y: s[3]}, {x: i, y: s[4]}, gap, {x: i - .2, y: s[4]}, {x: i + .2, y: s[4]}, gap,
        {x: i, y: s[1]}, {x: i, y: s[0]}, gap, {x: i - .2, y: s[0]}, {x: i + .2, y: s[0]}
    ];
}

function bracketData(sig) {
    const out = [];
    sig.forEach(b => {
        out.push({x: b[0], y: b[2] - b[3]}, {x: b[0], y: b[2]}, {x: b[1], y: b[2]}, {x: b[1], y: b[2] - b[3]}, {x: null, y: null});
    });
    return out;
}

const sigLabels = {
    id: 'sigLabels',
    afterDatasetsDraw(chart, args, opts) {
        const ctx = chart.ctx;
        ctx.save();
        ctx.textAlign = 'center';
        opts.sig.forEach(b => {
            const x = (chart.scales.x.getPixelForValue(b[0]) + chart.scales.x.getPixelForValue(b[1])) / 2;
            const y = chart.scales.y.getPixelForValue(b[2]);
            const ns = b[4] === 'ns';
            ctx.font = '21px "Liberation Serif"';
            ctx.fillStyle = ns ? '#222' : '#555';
            ctx.fillText(b[4], x + (ns ? 0 : 1), y + (ns ? -6 : -1));
        });
        ctx.restore();
    }
};

function makePanel(p) {
    const cv = document.createElement('canvas');
    cv.style.left = p.left + 'px';
    cv.style.top = p.top + 'px';
    cv.width = p.right - p.left;
    cv.height = p.bottom - p.top;
    document.getElementById('page').appendChild(cv);

    const datasets = [];
    p.points.forEach((pts, i) => {
        datasets.push({
            data: pairs(pts).map(d => ({x: i + d[0], y: d[1]})),
            showLine: false, pointRadius: 3.7, pointBackgroundColor: p.colors[i], pointBorderWidth: 0, order: 2
        });
        datasets.push({
            data: boxData(p.stats[i], i),
            showLine: true, pointRadius: 0, borderColor: p.colors[i] + 'd0', borderWidth: 1.5, spanGaps: false, order: 3
        });
    });
    datasets.push({
        data: bracketData(p.sig),
        showLine: true, pointRadius: 0, borderColor: '#333', borderWidth: 1.3, spanGaps: false, order: 1
    });

    const font = {family: '"Liberation Serif"', size: 21};
    const axisColor = '#333';
    new Chart(cv, {
        type: 'scatter',
        data: {datasets: datasets},
        plugins: [sigLabels],
        options: {
            responsive: false,
            animation: false,
            layout: {padding: 0, autoPadding: false},
            plugins: {legend: {display: false}, tooltip: {enabled: false}, sigLabels: {sig: p.sig}},
            scales: {
                x: {
                    type: 'linear',
                    min: -.6,
                    max: p.cats.length - .4,
                    afterBuildTicks: s => { s.ticks = p.cats.map((c, i) => ({value: i})); },
                    afterFit: s => { s.height = p.bottom - p.spineY; s.paddingLeft = 0; s.paddingRight = 0; },
                    border: {color: axisColor, width: 1.5},
                    grid: {drawOnChartArea: false, color: axisColor, tickLength: 8, tickWidth: 1.2},
                    ticks: {font: font, color: '#222', padding: 5, maxRotation: 0, autoSkip: false, callback: v => p.cats[v]}
                },
                y: {
                    type: 'linear',
                    min: p.ymin,
                    max: p.ymax,
                    afterBuildTicks: s => { s.ticks = p.yTicks.map(v => ({value: v})); },
                    afterFit: s => { s.width = p.spineX - p.left; s.paddingTop = 0; s.paddingBottom = 0; },
                    border: {color: axisColor, width: 1.5},
                    grid: {drawOnChartArea: false, color: axisColor, tickLength: 8, tickWidth: 1.2},
                    title: {display: true, text: 'PHLDB2 expression', font: font, color: '#222', padding: 0},
                    ticks: {font: font, color: '#222', padding: 10, autoSkip: false, callback: v => p.yFormat ? v.toFixed(1) : String(v)}
                }
            }
        }
    });
}

makePanel({left: 85, right: 402, top: 43, bottom: 460, spineX: 152, spineY: 418, ymin: -.167, ymax: 8.783, yTicks: yTicksTop,
    cats: catsA, colors: [red, blue], stats: statsA, points: [ptsA0.concat(fillA0), ptsA1.concat(fillA1)], sig: sigA});
makePanel({left: 428, right: 763, top: 43, bottom: 460, spineX: 496, spineY: 418.5, ymin: -.179, ymax: 8.783, yTicks: yTicksTop,
    cats: catsB, colors: [red, blue], stats: statsB, points: [ptsB0.concat(fillB0), ptsB1.concat(fillB1)], sig: sigB});
makePanel({left: 10, right: 365, top: 740, bottom: 1144, spineX: 77, spineY: 1101.7, ymin: -.115, ymax: 8.75, yTicks: yTicksTop,
    cats: catsC, colors: [red, blue], stats: statsC, points: [ptsC0.concat(fillC0), ptsC1], sig: sigC});
makePanel({left: 391, right: 838, top: 660, bottom: 1144, spineX: 484, spineY: 1101, ymin: -.33, ymax: 12.89, yTicks: yTicksD, yFormat: true,
    cats: catsD, colors: [red, blue, orange, green], stats: statsD, points: [ptsD0, ptsD1, ptsD2, ptsD3], sig: sigD});

function addText(html, x, y, center) {
    const d = document.createElement('div');
    d.className = center ? 't c' : 't';
    d.style.left = x + 'px';
    d.style.top = y + 'px';
    d.innerHTML = html;
    document.getElementById('page').appendChild(d);
}

function addGlyph(color, x, y) {
    const d = document.createElement('div');
    d.className = 'g';
    d.style.left = (x - 10) + 'px';
    d.style.top = (y - 14) + 'px';
    d.innerHTML = '<svg width="20" height="28" viewBox="0 0 20 28">'
        + '<g fill="none" stroke="' + color + '" stroke-width="1.5" stroke-opacity=".85">'
        + '<rect x="1.5" y="5.5" width="17" height="17"/><path d="M1.5 14H18.5M10 1V5.5M10 22.5V27"/></g>'
        + '<circle cx="10" cy="14" r="2.5" fill="' + color + '"/></svg>';
    document.getElementById('page').appendChild(d);
}

const eq = ' = ';
addText('<i>p</i>' + eq + '4.5<i>e</i>−73', 288, 23, true);
addText('<i>p</i>' + eq + '1.2<i>e</i>−08', 630, 32, true);
addText('<i>p</i>' + eq + '1<i>e</i>−04', 222, 716, true);
addText('Kruskal-wallis test <i>p</i>' + eq + '5.9<i>e</i>−40', 661, 639, true);

addText('Type', 148, 491);
addGlyph(red, 158, 527); addText('Cancer, <i>n</i>' + eq + '1014', 183, 528);
addGlyph(blue, 158, 561); addText('Normal, <i>n</i>' + eq + '578', 183, 562);
addText('(a)', 243, 602, true);

addText('Type', 497, 491);
addGlyph(red, 507, 527); addText('Male, <i>n</i>' + eq + '608', 532, 528);
addGlyph(blue, 507, 561); addText('Female, <i>n</i>' + eq + '406', 532, 562);
addText('(b)', 594, 602, true);

addText('Type', 77, 1158);
addGlyph(red, 88, 1195); addText('Smoker, <i>n</i>' + eq + '896', 113, 1196);
addGlyph(blue, 88, 1230); addText('Non-smoker, <i>n</i>' + eq + '92', 113, 1231);
addText('(c)', 187, 1269, true);

addText('Stage', 483, 1158);
addGlyph(red, 497, 1194); addText('T1, <i>n</i>' + eq + '116', 521, 1195);
addGlyph(blue, 497, 1229); addText('T2, <i>n</i>' + eq + '339', 521, 1230);
addGlyph(orange, 648, 1194); addText('T3, <i>n</i>' + eq + '118', 672, 1195);
addGlyph(green, 648, 1229); addText('Normal, <i>n</i>' + eq + '578', 672, 1230);
addText('(d)', 615, 1269, true);
</script>
</body>
</html>
